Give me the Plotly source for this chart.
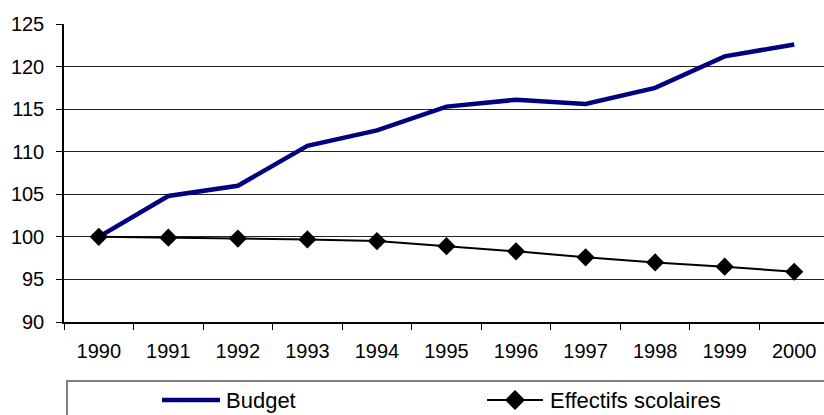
import plotly.graph_objects as go

years = ["1990", "1991", "1992", "1993", "1994", "1995", "1996", "1997", "1998", "1999", "2000"]
budget = [100, 104.8, 106.0, 110.7, 112.5, 115.3, 116.1, 115.6, 117.5, 121.2, 122.6]
effectifs = [100, 99.9, 99.8, 99.7, 99.5, 98.9, 98.3, 97.6, 97.0, 96.5, 95.9]
series_names = ["Budget", "Effectifs scolaires"]
y_ticks = [90, 95, 100, 105, 110, 115, 120, 125]

W, H = 824, 415
ML, MR, MT, MB = 64, 0, 24, 93
PW, PH = W - ML - MR, H - MT - MB

def px(x):
    return (x - ML) / PW

def py(y):
    return (H - MB - y) / PH

FONT = "Liberation Sans, Arial, sans-serif"
NAVY = "#000080"

fig = go.Figure()
fig.add_trace(go.Scatter(x=years, y=budget, mode="lines", name=series_names[0],
                         line=dict(color=NAVY, width=4.5), showlegend=False))
fig.add_trace(go.Scatter(x=years, y=effectifs, mode="lines+markers", name=series_names[1],
                         line=dict(color="black", width=2),
                         marker=dict(symbol="diamond", size=14, color="black"),
                         showlegend=False))

shapes = []
# legend box
shapes.append(dict(type="rect", xref="paper", yref="paper",
                   x0=px(67), x1=px(840), y0=py(430), y1=py(381),
                   line=dict(color="#808080", width=2), fillcolor="white", layer="below"))
# legend symbols
ly = 400
shapes.append(dict(type="line", xref="paper", yref="paper",
                   x0=px(162), x1=px(220), y0=py(ly), y1=py(ly),
                   line=dict(color=NAVY, width=4.5)))
shapes.append(dict(type="line", xref="paper", yref="paper",
                   x0=px(487), x1=px(543), y0=py(ly), y1=py(ly),
                   line=dict(color="black", width=2)))
cx, d = 515, 10
shapes.append(dict(type="path", xref="paper", yref="paper",
                   path=f"M {px(cx-d)},{py(ly)} L {px(cx)},{py(ly-d)} L {px(cx+d)},{py(ly)} L {px(cx)},{py(ly+d)} Z",
                   fillcolor="black", line=dict(color="black", width=0)))

annotations = [
    dict(text=series_names[0], xref="paper", yref="paper", x=px(224), y=py(ly),
         xanchor="left", yanchor="middle", showarrow=False,
         font=dict(family=FONT, size=22, color="black")),
    dict(text=series_names[1], xref="paper", yref="paper", x=px(548), y=py(ly),
         xanchor="left", yanchor="middle", showarrow=False,
         font=dict(family=FONT, size=22, color="black")),
]

fig.update_layout(
    width=W, height=H,
    margin=dict(l=ML, r=MR, t=MT, b=MB, pad=0),
    paper_bgcolor="white", plot_bgcolor="white",
    font=dict(family=FONT, size=20, color="black"),
    shapes=shapes, annotations=annotations,
    xaxis=dict(type="category", range=[-0.5, -0.5 + PW / (765 / 11)],
               showgrid=False, showline=True, linecolor="black", linewidth=1.5,
               ticks="outside", ticklen=6, tickcolor="black", tickwidth=1,
               tickson="boundaries", ticklabelstandoff=10,
               tickfont=dict(family=FONT, size=20, color="black"), zeroline=False),
    yaxis=dict(range=[90, 125], tickvals=y_ticks,
               showgrid=True, gridcolor="#222222", gridwidth=1,
               showline=True, linecolor="black", linewidth=1.5,
               ticks="outside", ticklen=6, tickcolor="black", tickwidth=1,
               ticklabelstandoff=8, zeroline=False,
               tickfont=dict(family=FONT, size=20, color="black")),
)

fig.write_html("out.html")
